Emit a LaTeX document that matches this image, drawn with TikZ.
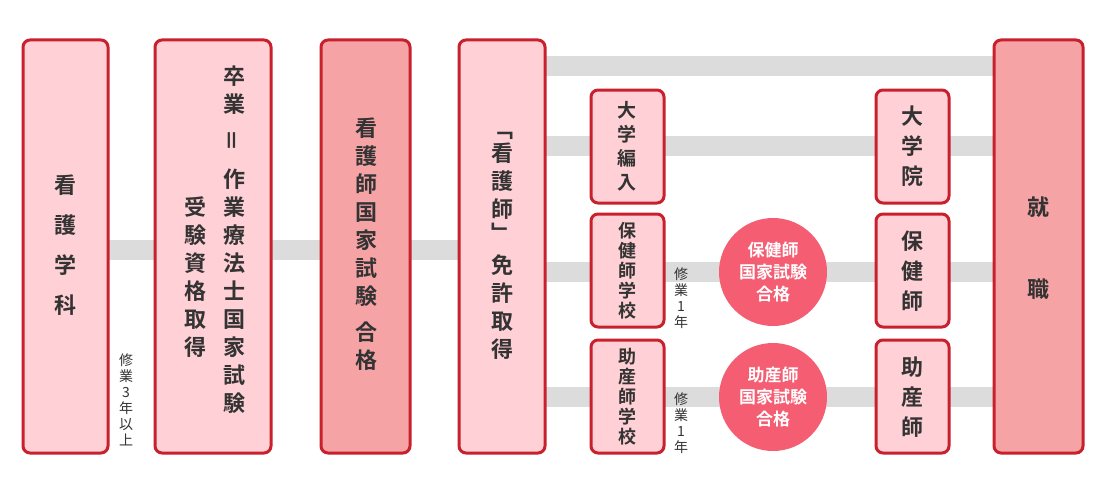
\documentclass[tikz,border=0pt]{standalone}
\usepackage{fontspec}
\newfontfamily\jp{Noto Sans CJK JP}[BoldFont={* Bold}]
\definecolor{bd}{HTML}{C8202D}
\definecolor{lp}{HTML}{FFD0D5}
\definecolor{dp}{HTML}{F6A3A5}
\definecolor{cc}{HTML}{F45D72}
\definecolor{gb}{HTML}{DCDCDC}
\definecolor{tx}{HTML}{333333}
\begin{document}
\begin{tikzpicture}[x=1pt,y=-1pt,
 bar/.style={gb,line width=20pt},
 boxs/.style={draw=bd,line width=3pt,rounded corners=7pt,fill=lp},
 dbox/.style={boxs,fill=dp},
 vt/.style={text=tx,font=\jp\bfseries\fontsize{#1}{#1}\selectfont,align=center,inner sep=0pt},
 circ/.style={circle,fill=cc,minimum size=108pt,inner sep=0pt,text=white,align=center,font=\jp\bfseries\fontsize{17}{22}\selectfont},
 sm/.style={text=tx,font=\jp\fontsize{14}{16}\selectfont,align=center,inner sep=0pt}]
\useasboundingbox (0,0) rectangle (1100,495);
\fill[white] (0,0) rectangle (1100,495);
% bars
\coordinate (m1) at (108,250); \coordinate (m2) at (459,250);
\draw[bar] (m1) -- (m2);
\foreach \yy in {66,146,272,397} \draw[bar] (545,\yy) -- (994,\yy);
% boxes
\draw[boxs] (23,40) rectangle (108,453);
\draw[boxs] (155,40) rectangle (271,453);
\draw[dbox] (321,40) rectangle (410,453);
\draw[boxs] (459,40) rectangle (545,453);
\draw[dbox] (994,40) rectangle (1083,453);
\foreach \yy/\yb in {90/203,214/327,340/453}{
 \draw[boxs] (591,\yy) rectangle (664,\yb);
 \draw[boxs] (876,\yy) rectangle (949,\yb);}
% texts
\node[vt=22] (t1) at (65,245) {看\\[18pt]護\\[18pt]学\\[18pt]科};
\node[vt=22,anchor=north] (t2a) at (234,66) {卒\\[6pt]業\\[14pt]\rotatebox{90}{＝}\\[14pt]作\\[6pt]業\\[6pt]療\\[6pt]法\\[6pt]士\\[6pt]国\\[6pt]家\\[6pt]試\\[6pt]験};
\node[vt=22,anchor=north] (t2b) at (195,196) {受\\[6pt]験\\[6pt]資\\[6pt]格\\[6pt]取\\[6pt]得};
\node[vt=22,anchor=north] (t3) at (366,118) {看\\[6pt]護\\[6pt]師\\[6pt]国\\[6pt]家\\[6pt]試\\[6pt]験\\[14pt]合\\[6pt]格};
\node[vt=22,anchor=north] (t4) at (502,132) {﹁\\[2pt]看\\[6pt]護\\[6pt]師\\[2pt]﹂\\[10pt]免\\[6pt]許\\[6pt]取\\[6pt]得};
\node[vt=22] (t5) at (1038,248) {就\\[60pt]職};
\node[vt=19] (s1) at (627,146) {大\\[5pt]学\\[5pt]編\\[5pt]入};
\node[vt=18] (s2) at (627,271) {保\\[2pt]健\\[2pt]師\\[2pt]学\\[2pt]校};
\node[vt=18] (s3) at (627,397) {助\\[2pt]産\\[2pt]師\\[2pt]学\\[2pt]校};
\node[vt=22] (r1) at (912,146) {大\\[8pt]学\\[8pt]院};
\node[vt=22] (r2) at (912,271) {保\\[8pt]健\\[8pt]師};
\node[vt=22] (r3) at (912,397) {助\\[8pt]産\\[8pt]師};
\node[circ] (c1) at (773,272) {保健師\\国家試験\\合格};
\node[circ] (c2) at (773,397) {助産師\\国家試験\\合格};
\node[sm] (l1) at (126,400) {修\\業\\3\\年\\以\\上};
\node[sm] (l2) at (681,298) {修\\業\\1\\年};
\node[sm] (l3) at (681,423) {修\\業\\1\\年};
\end{tikzpicture}
\end{document}
